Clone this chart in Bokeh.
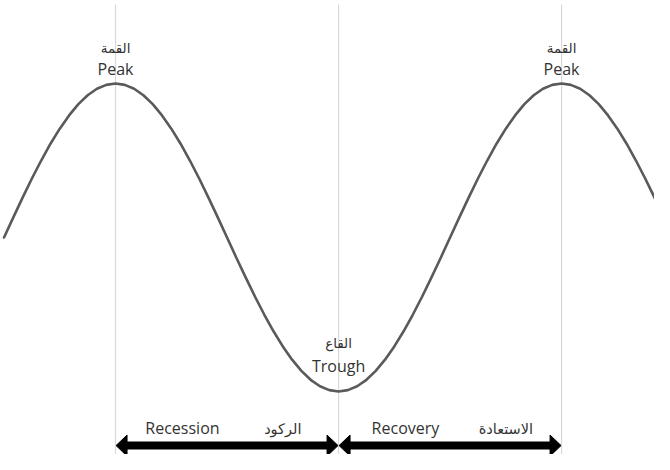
from bokeh.plotting import figure
from bokeh.models import Range1d, ColumnDataSource
from bokeh.core.properties import value
from bokeh.embed import file_html
from bokeh.resources import INLINE

# ---------------- data ----------------
# stylised business cycle: month vs activity level (peak = 1, trough = -1), half-month steps
months = [6 + 0.5 * i for i in range(73)]
activity = [0.000, 0.131, 0.259, 0.383, 0.500, 0.609, 0.707, 0.793, 0.866, 0.924, 0.966, 0.991, 1.000,
            0.991, 0.966, 0.924, 0.866, 0.793, 0.707, 0.609, 0.500, 0.383, 0.259, 0.131, 0.000,
            -0.131, -0.259, -0.383, -0.500, -0.609, -0.707, -0.793, -0.866, -0.924, -0.966, -0.991, -1.000,
            -0.991, -0.966, -0.924, -0.866, -0.793, -0.707, -0.609, -0.500, -0.383, -0.259, -0.131, 0.000,
            0.131, 0.259, 0.383, 0.500, 0.609, 0.707, 0.793, 0.866, 0.924, 0.966, 0.991, 1.000,
            0.991, 0.966, 0.924, 0.866, 0.793, 0.707, 0.609, 0.500, 0.383, 0.259, 0.131, 0.000]

turn_month = [12, 24, 36]
turn_level = [1.0, -1.0, 1.0]
turn_en = ["Peak", "Trough", "Peak"]
turn_ar = ["القمة", "القاع", "القمة"]

phase_start = [12, 24]
phase_end = [24, 36]
phase_en = ["Recession", "Recovery"]
phase_ar = ["الركود", "الاستعادة"]

# ---------------- layout / style ----------------
PX_X = 223 / 12.0   # pixels per month
PX_Y = 154.0        # pixels per level unit
arrow_level = -1.351
guide_top = 1.513
guide_bottom = -1.7
head_len = 11 / PX_X
head_half = 10.5 / PX_Y
tip_gap = 0.5 / PX_X

p = figure(width=654, height=454, output_backend="svg", toolbar_location=None,
           x_range=Range1d(5.81, 41.0), y_range=Range1d(-1.409, 1.539),
           x_axis_location=None, y_axis_location=None, min_border=0,
           background_fill_color="white", border_fill_color="white")
p.grid.visible = False
p.outline_line_color = None

# guide lines at turning points
p.segment(x0=turn_month, y0=[guide_top] * len(turn_month), x1=turn_month,
          y1=[guide_bottom] * len(turn_month), line_color="#d9d9d9", line_width=1.2)

# the cycle curve
p.line(months, activity, line_color="#5a5a5a", line_width=2.6, line_join="round", line_cap="round")

# turning point labels
dy_en = [-15 if lv > 0 else -26 for lv in turn_level]
dy_ar = [d - 21 if lv > 0 else d - 23 for d, lv in zip(dy_en, turn_level)]
src_t = ColumnDataSource(dict(x=turn_month, y=turn_level, en=turn_en, ar=turn_ar,
                              dy_en=dy_en, dy_ar=dy_ar))
p.text(x="x", y="y", text="en", y_offset="dy_en", source=src_t,
       text_font=value("Open Sans"), text_font_size=value("16px"),
       text_color="#333333", text_align="center", text_baseline="alphabetic")
p.text(x="x", y="y", text="ar", y_offset="dy_ar", source=src_t,
       text_font=value("DejaVu Sans"), text_font_size=value("13.5px"),
       text_color="#333333", text_align="center", text_baseline="alphabetic")

# phase arrows
shaft_x0 = [s + head_len for s in phase_start]
shaft_x1 = [e - head_len for e in phase_end]
p.segment(x0=shaft_x0, y0=[arrow_level] * 2, x1=shaft_x1, y1=[arrow_level] * 2,
          line_color="black", line_width=8, line_cap="butt")
xs, ys = [], []
for s, e in zip(phase_start, phase_end):
    s2, e2 = s + tip_gap, e - tip_gap
    xs.append([s2, s2 + head_len, s2 + head_len])
    ys.append([arrow_level, arrow_level + head_half, arrow_level - head_half])
    xs.append([e2, e2 - head_len, e2 - head_len])
    ys.append([arrow_level, arrow_level + head_half, arrow_level - head_half])
p.patches(xs, ys, fill_color="black", line_color="black", line_width=1)

# phase labels
en_pos = [s + 0.30 * (e - s) for s, e in zip(phase_start, phase_end)]
ar_pos = [s + 0.75 * (e - s) for s, e in zip(phase_start, phase_end)]
p.text(x=en_pos, y=[arrow_level] * 2, text=phase_en, y_offset=-18,
       text_font=value("Open Sans"), text_font_size=value("16px"),
       text_color="#333333", text_align="center", text_baseline="alphabetic")
p.text(x=ar_pos, y=[arrow_level] * 2, text=phase_ar, y_offset=-17,
       text_font=value("DejaVu Sans"), text_font_size=value("14.5px"),
       text_color="#333333", text_align="center", text_baseline="alphabetic")

open("out.html", "w").write(file_html(p, INLINE))
